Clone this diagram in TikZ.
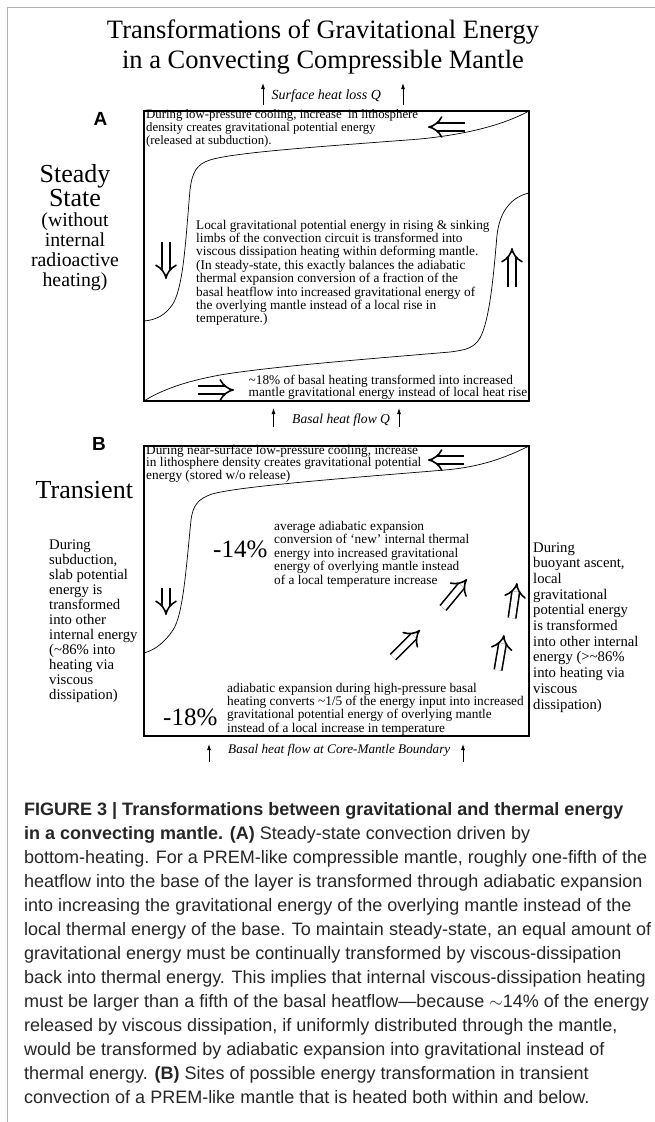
\documentclass[tikz,border=0pt]{standalone}
\usepackage{fontspec}
\setmainfont{Liberation Serif}
\newfontfamily\capsans{Liberation Sans}
\usetikzlibrary{arrows.meta}

\begin{document}
\begin{tikzpicture}[x=1pt, y=-1pt,
    panel/.style={draw, line width=1.3pt, minimum width=385pt, minimum height=290pt,
        anchor=north west, inner sep=0pt, outer sep=0pt},
    flow/.style={line width=0.7pt},
    dbl/.style={double, double distance=6pt, line width=1.6pt, -{Implies}},
    heat/.style={line width=0.8pt, -{Latex[length=6pt,width=4pt]}},
    txt/.style={anchor=base west, inner sep=0pt, align=left,
        font=\fontsize{13.3}{13.4}\selectfont},
    side/.style={anchor=base west, inner sep=0pt, align=left,
        font=\fontsize{14.7}{15.3}\selectfont},
    flux/.style={anchor=base west, inner sep=0pt, font=\itshape\fontsize{14}{14}\selectfont},
    big/.style={inner sep=0pt, font=\fontsize{26}{24}\selectfont},
    pct/.style={anchor=base west, inner sep=0pt, font=\fontsize{25}{25}\selectfont},
    lab/.style={anchor=base, inner sep=0pt, font=\capsans\bfseries\fontsize{19}{19}\selectfont},
]
    \useasboundingbox (0,0) rectangle (655,1122);
    % 边框
    \draw[gray!60, line width=1.2pt] (7.5,1122) -- (7.5,7.5) -- (655,7.5);

    % 标题（多行节点的 base 在最后一行）
    \node (title) [anchor=base, inner sep=0pt, align=center,
        font=\fontsize{26.5}{30}\selectfont] at (323,68)
        {Transformations of Gravitational Energy\\in a Convecting Compressible Mantle};

    % 面板 A
    \node (surfq) [flux] at (271.5,99.5) {Surface heat loss Q};
    \coordinate (sq1) at (263,105);  \coordinate (sq1t) at (263,83);
    \coordinate (sq2) at (403,105);  \coordinate (sq2t) at (403,83);
    \draw[heat] (sq1) -- (sq1t);
    \draw[heat] (sq2) -- (sq2t);

    \node (labA) [lab] at (100.5,125) {A};
    \node (steady) [big, anchor=base, align=center] at (75,206) {Steady\\State};
    \node (nointernal) [anchor=base, inner sep=0pt, align=center,
        font=\fontsize{19.8}{19.7}\selectfont] at (75,286)
        {(without\\internal\\radioactive\\heating)};

    \node (boxA) [panel] at (144,111) {};
    \draw[flow] (529,111) .. controls (505,124) and (470,134) .. (420,139)
        .. controls (330,146) and (235,152) .. (210,160)
        .. controls (197,164) and (192,172) .. (190,190)
        .. controls (186,235) and (184,282) .. (174,302)
        .. controls (166,316) and (155,320) .. (144,321);
    \draw[flow] (529,193) .. controls (512,197) and (500,210) .. (497,235)
        .. controls (494,270) and (490,320) .. (480,338)
        .. controls (474,348) and (466,350) .. (450,352)
        .. controls (380,358) and (250,368) .. (210,377)
        .. controls (180,383) and (158,392) .. (144,401);

    \node (topA) [txt, font=\fontsize{12.8}{11.6}\selectfont] at (146,144.2)
        {During low-pressure cooling, increase \ in lithosphere\\
         density creates gravitational potential energy\\
         (released at subduction).};
    \node (midA) [txt] at (196,322.8)
        {Local gravitational potential energy in rising \& sinking\\
         limbs of the convection circuit is transformed into\\
         viscous dissipation heating within deforming mantle.\\
         (In steady-state, this exactly balances the adiabatic\\
         thermal expansion conversion of a fraction of the\\
         basal heatflow into increased gravitational energy of\\
         the overlying mantle instead of a local rise in\\
         temperature.)};
    \node (botA) [txt, font=\fontsize{13.3}{12.5}\selectfont] at (248.5,396.5)
        {\textasciitilde 18\% of basal heating transformed into increased\\
         mantle gravitational energy instead of local heat rise};

    \coordinate (a1s) at (465,127); \coordinate (a1e) at (428,127);
    \coordinate (a2s) at (166,242); \coordinate (a2e) at (166,279);
    \coordinate (a3s) at (512,287); \coordinate (a3e) at (512,248);
    \coordinate (a4s) at (198,390); \coordinate (a4e) at (234,390);
    \draw[dbl] (a1s) -- (a1e);
    \draw[dbl] (a2s) -- (a2e);
    \draw[dbl] (a3s) -- (a3e);
    \draw[dbl] (a4s) -- (a4e);

    \node (basalq) [flux, font=\itshape\fontsize{13.6}{14}\selectfont] at (292,423) {Basal heat flow Q};
    \coordinate (bq1) at (273.5,427);  \coordinate (bq1t) at (273.5,408);
    \coordinate (bq2) at (399,427);    \coordinate (bq2t) at (399,408);
    \draw[heat] (bq1) -- (bq1t);
    \draw[heat] (bq2) -- (bq2t);

    % 面板 B
    \node (labB) [lab] at (99,450) {B};
    \node (transient) [big, anchor=base west] at (35.5,498) {Transient};

    \node (boxB) [panel] at (144,446) {};
    \draw[flow] (529,446) .. controls (505,458) and (480,467) .. (445,470)
        .. controls (360,477) and (240,486) .. (212,494)
        .. controls (198,499) and (193,505) .. (191,520)
        .. controls (186,570) and (183,615) .. (173,630)
        .. controls (165,642) and (155,650) .. (144,653);

    \node (topB) [txt, font=\fontsize{13.3}{12.5}\selectfont] at (146,479)
        {During near-surface low-pressure cooling, increase\\
         in lithosphere density creates gravitational potential\\
         energy (stored w/o release)};
    \node (pct14) [pct] at (213,557) {-14\%};
    \node (midB) [txt, font=\fontsize{13.3}{13.5}\selectfont] at (274,584)
        {average adiabatic expansion\\
         conversion of ‘new’ internal thermal\\
         energy into increased gravitational\\
         energy of overlying mantle instead\\
         of a local temperature increase};
    \node (pct18) [pct] at (163,725) {-18\%};
    \node (botB) [txt, font=\fontsize{13.3}{13.3}\selectfont] at (227,732)
        {adiabatic expansion during high-pressure basal\\
         heating converts \textasciitilde 1/5 of the energy input into increased\\
         gravitational potential energy of overlying mantle\\
         instead of a local increase in temperature};

    \node (leftB) [side, font=\fontsize{14.7}{15}\selectfont] at (49,699)
        {During\\subduction,\\slab potential\\energy is\\transformed\\into other\\internal energy\\
         (\textasciitilde 86\% into\\heating via\\viscous\\dissipation)};
    \node (rightB) [side, font=\fontsize{14.7}{15.7}\selectfont] at (533,709)
        {During\\buoyant ascent,\\local\\gravitational\\potential energy\\is transformed\\into other internal\\
         energy (>\textasciitilde 86\%\\into heating via\\viscous\\dissipation)};

    \coordinate (b1s) at (464,460); \coordinate (b1e) at (428,460);
    \coordinate (b2s) at (166,588); \coordinate (b2e) at (166,615);
    \coordinate (b3s) at (443,608); \coordinate (b3e) at (467,579);
    \coordinate (b4s) at (393,657); \coordinate (b4e) at (420,630);
    \coordinate (b5s) at (512,618); \coordinate (b5e) at (517,583);
    \coordinate (b6s) at (498,670); \coordinate (b6e) at (504,635);
    \foreach \s/\e in {b1s/b1e, b2s/b2e, b3s/b3e, b4s/b4e, b5s/b5e, b6s/b6e}
        \draw[dbl] (\s) -- (\e);

    \node (cmbq) [flux, font=\itshape\fontsize{13.2}{14}\selectfont] at (228,753)
        {Basal heat flow at Core-Mantle Boundary};
    \coordinate (cq1) at (209,762);  \coordinate (cq1t) at (209,744);
    \coordinate (cq2) at (463,762);  \coordinate (cq2t) at (463,744);
    \draw[heat] (cq1) -- (cq1t);
    \draw[heat] (cq2) -- (cq2t);

    % 图注
    \node (caption) [anchor=base west, inner sep=0pt, align=left, text=black!85,
        font=\capsans\fontsize{18}{24}\selectfont] at (24,1103)
        {\textbf{FIGURE 3 | Transformations between gravitational and thermal energy}\\
         \textbf{in a convecting mantle. (A)} Steady-state convection driven by\\
         bottom-heating. For a PREM-like compressible mantle, roughly one-fifth of the\\
         heatflow into the base of the layer is transformed through adiabatic expansion\\
         into increasing the gravitational energy of the overlying mantle instead of the\\
         local thermal energy of the base. To maintain steady-state, an equal amount of\\
         gravitational energy must be continually transformed by viscous-dissipation\\
         back into thermal energy. This implies that internal viscous-dissipation heating\\
         must be larger than a fifth of the basal heatflow—because $\sim$14\% of the energy\\
         released by viscous dissipation, if uniformly distributed through the mantle,\\
         would be transformed by adiabatic expansion into gravitational instead of\\
         thermal energy. \textbf{(B)} Sites of possible energy transformation in transient\\
         convection of a PREM-like mantle that is heated both within and below.};
\end{tikzpicture}
\end{document}
